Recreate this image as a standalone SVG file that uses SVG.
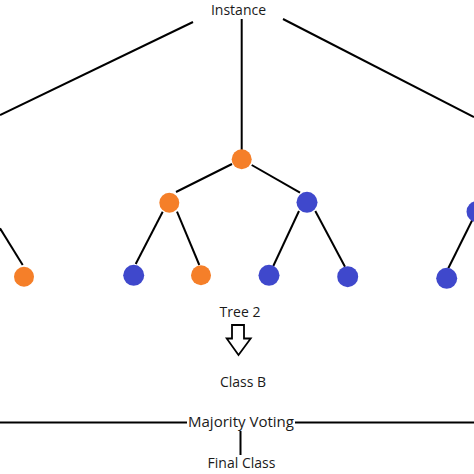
<svg xmlns="http://www.w3.org/2000/svg" width="474" height="474" viewBox="0 0 474 474">
<style>
.e{stroke:#000;stroke-width:2;fill:none}
.o{fill:#F57F29}
.b{fill:#3F48CC}
.t{font-family:"Open Sans","Liberation Sans",sans-serif;font-size:14px;fill:#1a1a1a;text-anchor:middle}
</style>
<rect width="474" height="474" fill="#fff"/>
<g id="connectors">
<line class="e" x1="193" y1="22" x2="0" y2="115"/>
<line class="e" x1="241.7" y1="19" x2="241.7" y2="150"/>
<line class="e" x1="283" y1="19" x2="474" y2="117"/>
<line class="e" x1="232" y1="164" x2="176" y2="192"/>
<line class="e" x1="251.7" y1="165" x2="300" y2="192.7"/>
<line class="e" x1="162.7" y1="211.7" x2="135.7" y2="264"/>
<line class="e" x1="177" y1="211.7" x2="199.3" y2="265"/>
<line class="e" x1="299" y1="211" x2="273.3" y2="266"/>
<line class="e" x1="315.3" y1="211" x2="345" y2="266.7"/>
<line class="e" x1="0" y1="228.3" x2="22.7" y2="265"/>
<line class="e" x1="448.3" y1="268.3" x2="472.3" y2="220"/>
<line class="e" x1="0" y1="422.5" x2="187" y2="422.5"/>
<line class="e" x1="295" y1="422.5" x2="474" y2="422.5"/>
<line class="e" x1="240.5" y1="431" x2="240.5" y2="455"/>
</g>
<g id="instance"><text class="t" x="238.5" y="14.5">Instance</text></g>
<g id="root"><circle class="o" cx="241.7" cy="159.3" r="10"/></g>
<g id="left-child"><circle class="o" cx="169.3" cy="202.7" r="10"/></g>
<g id="right-child"><circle class="b" cx="307" cy="202.3" r="10.5"/></g>
<g id="leaf1"><circle class="b" cx="133.7" cy="275.3" r="10.5"/></g>
<g id="leaf2"><circle class="o" cx="201" cy="275.3" r="10"/></g>
<g id="leaf3"><circle class="b" cx="269" cy="275.3" r="10.5"/></g>
<g id="leaf4"><circle class="b" cx="347.7" cy="276.7" r="10.5"/></g>
<g id="left-leaf"><circle class="o" cx="24" cy="276.7" r="10"/></g>
<g id="right-node"><circle class="b" cx="477" cy="211.7" r="10.5"/></g>
<g id="right-leaf"><circle class="b" cx="446.7" cy="278.3" r="10.5"/></g>
<g id="tree2"><text class="t" x="240" y="316.7">Tree 2</text></g>
<g id="arrow"><polygon points="232,325 244,325 244,338.5 250.7,338.5 238.5,355 226.7,338.5 232,338.5" fill="#fff" stroke="#000" stroke-width="1.8" stroke-linejoin="miter"/></g>
<g id="classb"><text class="t" x="243" y="386.5">Class B</text></g>
<g id="voting"><text class="t" x="241" y="426.5" textLength="106" lengthAdjust="spacingAndGlyphs">Majority Voting</text></g>
<g id="final"><text class="t" x="241.5" y="468.3">Final Class</text></g>
</svg>
